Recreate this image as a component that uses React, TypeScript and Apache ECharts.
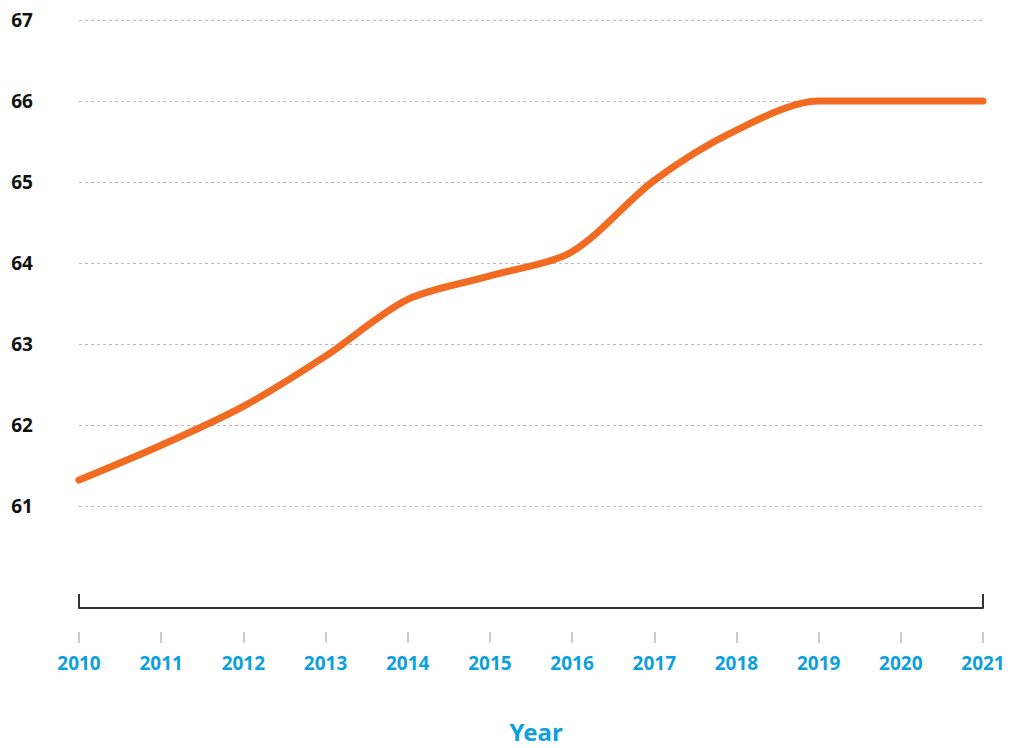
import React, { useEffect, useRef } from "react";
import * as echarts from "echarts";

const years = ["2010", "2011", "2012", "2013", "2014", "2015", "2016", "2017", "2018", "2019", "2020", "2021"];
const values = [61.32, 61.75, 62.23, 62.85, 63.55, 63.84, 64.14, 65.02, 65.64, 66.0, 66.0, 66.0];

export default function App() {
  const ref = useRef<HTMLDivElement>(null);
  useEffect(() => {
    const chart = echarts.init(ref.current!, null, { renderer: "svg" });
    const font = "'Noto Sans', 'Open Sans', sans-serif";
    chart.setOption({
      animation: false,
      grid: { left: 79, right: 41, top: 20, bottom: 231, containLabel: false },
      xAxis: [
        {
          type: "category",
          data: years,
          boundaryGap: false,
          position: "bottom",
          offset: 102,
          axisLine: { show: true, lineStyle: { color: "#333", width: 2 } },
          axisTick: {
            show: true,
            inside: true,
            length: 14,
            interval: (i: number) => i === 0 || i === years.length - 1,
            lineStyle: { color: "#333", width: 2 },
          },
          axisLabel: { show: false },
          splitLine: { show: false },
        },
        {
          type: "category",
          data: years,
          boundaryGap: false,
          position: "bottom",
          offset: 126,
          axisLine: { show: false },
          axisTick: { show: true, length: 11, interval: 0, lineStyle: { color: "#bbb", width: 1.5 } },
          axisLabel: { color: "#0ea0dc", fontSize: 19, fontWeight: "bold", fontFamily: font, margin: 21, interval: 0 },
          name: "Year",
          nameLocation: "middle",
          nameGap: 87,
          nameTextStyle: { color: "#0ea0dc", fontSize: 24, fontWeight: "bold", fontFamily: font, padding: [0, 0, 0, 10] },
          splitLine: { show: false },
        },
      ],
      yAxis: {
        type: "value",
        min: 61,
        max: 67,
        interval: 1,
        axisLine: { show: false },
        axisTick: { show: false },
        axisLabel: { color: "#111", fontSize: 19, fontWeight: "bold", fontFamily: font, margin: 46 },
        splitLine: { show: true, lineStyle: { color: "#bbb", type: [3, 3], width: 1 } },
      },
      series: [
        {
          type: "line",
          data: values,
          xAxisIndex: 0,
          smooth: 0.3,
          showSymbol: false,
          symbol: "none",
          lineStyle: { color: "#f26b22", width: 7, cap: "round" },
        },
      ],
    });
    return () => chart.dispose();
  }, []);
  return <div ref={ref} style={{ width: 1024, height: 748, position: "absolute", left: 0, top: 0 }} />;
}
